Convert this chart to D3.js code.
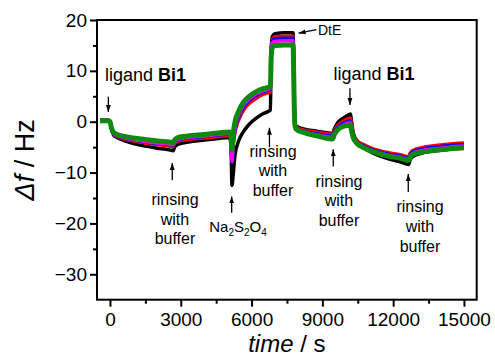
<!DOCTYPE html>
<html>
<head>
<meta charset="utf-8">
<script src="https://cdn.jsdelivr.net/npm/d3@7"></script>
<style>
  body { margin: 0; background: #fff; }
  text { font-family: "Liberation Sans", Arial, sans-serif; fill: #000; }
</style>
</head>
<body>
<svg id="chart" width="495" height="357"></svg>
<script>

// time axis of the recording (s)
var time = [-420, -100, 0, 60, 150, 300, 600, 1000, 1500, 2000, 2500, 2680, 2740, 2900, 3300, 4000, 4600, 5080,
    5130, 5170, 5220, 5300, 5450, 5650, 5900, 6200, 6500, 6800, 6830, 6880, 7000, 7400, 7760, 7790, 7830, 7900,
    8200, 8800, 9440, 9500, 9650, 9850, 10100, 10190, 10230, 10300, 10450, 10700, 11200, 11800, 12300, 12660,
    12720, 12850, 13200, 13800, 14400, 15000];

// frequency shift (Hz) per harmonic
var blackVals = [0.2, 0.2, 0.0, -1.4, -2.6, -3.1, -3.7, -4.3, -4.8, -5.2, -5.5, -5.7, -5.0, -4.4, -4.0, -3.6, -3.3, -3.1,
    -5.0, -12.5, -10.5, -6.5, -3.8, -2.0, -0.5, 0.7, 1.6, 2.3, 14.0, 16.8, 17.3, 17.5, 17.5, 8.5, 0.0, -0.9,
    -1.4, -1.9, -2.3, -1.5, -0.2, 0.6, 1.3, 1.5, 0.3, -2.0, -3.8, -4.9, -6.3, -7.3, -7.9, -8.4,
    -7.5, -6.8, -6.2, -5.7, -5.4, -5.2];
var redVals = [0.3, 0.3, 0.1, -1.3, -2.4, -2.9, -3.4, -3.8, -4.2, -4.5, -4.8, -4.9, -4.3, -3.8, -3.5, -3.2, -2.9, -2.7,
    -3.8, -7.0, -4.5, -2.0, 0.3, 2.2, 3.6, 4.6, 5.4, 5.9, 13.5, 16.2, 16.7, 16.8, 16.8, 8.3, -0.2, -1.1,
    -1.6, -2.1, -2.5, -1.8, -0.7, 0.0, 0.6, 0.7, -0.3, -2.2, -3.6, -4.4, -5.4, -6.1, -6.5, -6.9,
    -6.2, -5.6, -5.1, -4.7, -4.4, -4.2];
var blueVals = [0.3, 0.3, 0.1, -1.3, -2.3, -2.8, -3.2, -3.6, -4.0, -4.3, -4.5, -4.6, -4.1, -3.5, -3.2, -2.9, -2.6, -2.4,
    -3.8, -8.0, -4.5, -1.5, 0.9, 2.8, 4.2, 5.2, 5.9, 6.4, 13.2, 15.8, 16.3, 16.4, 16.4, 8.2, -0.3, -1.3,
    -1.9, -2.4, -2.8, -2.1, -1.1, -0.4, 0.1, 0.2, -0.8, -2.5, -3.9, -4.7, -5.7, -6.4, -6.8, -7.2,
    -6.5, -5.9, -5.4, -5.0, -4.7, -4.5];
var magentaVals = [0.3, 0.3, 0.1, -1.3, -2.3, -2.7, -3.1, -3.5, -3.9, -4.2, -4.4, -4.5, -4.0, -3.4, -3.1, -2.8, -2.5, -2.3,
    -3.6, -7.8, -4.0, -1.0, 1.3, 3.2, 4.5, 5.5, 6.1, 6.6, 12.8, 15.4, 15.8, 15.9, 15.9, 8.1, -0.4, -1.4,
    -2.0, -2.6, -3.1, -2.4, -1.4, -0.8, -0.3, -0.2, -1.2, -2.8, -4.1, -4.9, -5.9, -6.6, -7.0, -7.4,
    -6.7, -6.2, -5.7, -5.3, -5.0, -4.8];
var greenVals = [0.2, 0.2, 0.0, -1.2, -2.1, -2.5, -2.9, -3.2, -3.5, -3.8, -4.0, -4.1, -3.6, -3.1, -2.8, -2.5, -2.2, -2.0,
    -3.0, -5.5, -2.5, 0.0, 2.0, 3.8, 5.0, 5.9, 6.5, 6.9, 12.5, 14.6, 15.0, 15.1, 15.1, 8.0, -0.5, -1.5,
    -2.1, -2.8, -3.4, -2.6, -1.6, -1.0, -0.7, -0.6, -1.6, -3.0, -4.2, -5.0, -6.0, -6.8, -7.2, -7.6,
    -6.9, -6.4, -6.0, -5.6, -5.3, -5.1];

var seriesNames = ['black', 'red', 'blue', 'magenta', 'green'];
var seriesVals = [blackVals, redVals, blueVals, magentaVals, greenVals];
var seriesColors = ['#000000', '#ff0000', '#0000ff', '#ff00ff', '#0b8a0b'];

var xTicks = [0, 3000, 6000, 9000, 12000, 15000];
var xMinor = [1500, 4500, 7500, 10500, 13500];
var yTicks = [20, 10, 0, -10, -20, -30];
var yMinor = [15, 5, -5, -15, -25];

// annotations: arrow x, arrow from y -> to y (data units)
var arrows = [
    {t: -70, y0: 4.9, y1: 1.9},
    {t: 2640, y0: -11.5, y1: -8.1},
    {t: 5157, y0: -17.9, y1: -14.7},
    {t: 6758, y0: -5.0, y1: -1.2},
    {t: 10169, y0: 6.6, y1: 3.3},
    {t: 9462, y0: -8.8, y1: -5.4},
    {t: 12640, y0: -13.8, y1: -10.3}
];
var rinseLabels = [
    {t: 2754, y: -16.4},
    {t: 6907, y: -6.9},
    {t: 9703, y: -12.8},
    {t: 13136, y: -17.8}
];
var ligandLabels = [
    {t: 1504, y: 8.0},
    {t: 11186, y: 8.2}
];
var naParts = [['Na', 0], ['2', 1], ['S', 0], ['2', 1], ['O', 0], ['4', 1]];

window.addEventListener('load', makeChart);

function makeChart() {
    var svg = d3.select('#chart');
    var left = 97, top = 20, right = 476.7, bottom = 299.7;

    var x = d3.scaleLinear().domain([-550, 15540]).range([left, right]);
    var y = d3.scaleLinear().domain([-35, 20]).range([bottom, top]);

    // arrow head
    svg.append('defs').append('marker')
        .attr('id', 'head')
        .attr('markerUnits', 'userSpaceOnUse')
        .attr('viewBox', '0 0 10 10')
        .attr('refX', 10).attr('refY', 5)
        .attr('markerWidth', 7).attr('markerHeight', 7)
        .attr('orient', 'auto')
        .append('path').attr('d', 'M0,1.5 L10,5 L0,8.5 Z').attr('fill', '#000');

    // curves
    var line = d3.line()
        .x(function(d, i) { return x(time[i]); })
        .y(function(d) { return y(d); })
        .curve(d3.curveMonotoneX);

    var linesG = svg.append('g').attr('class', 'lines');
    seriesVals.forEach(function(vals, k) {
        linesG.append('path')
            .attr('id', seriesNames[k])
            .attr('d', line(vals))
            .attr('fill', 'none')
            .attr('stroke', seriesColors[k])
            .attr('stroke-width', k == 4 ? 5 : 3.5)
            .attr('stroke-linejoin', 'round');
    });

    // axes
    svg.append('g').attr('transform', 'translate(0,' + bottom + ')')
        .call(d3.axisBottom(x).tickValues(xTicks).tickSize(7).tickPadding(6).tickFormat(d3.format('d')));
    svg.append('g').attr('transform', 'translate(0,' + bottom + ')')
        .call(d3.axisBottom(x).tickValues(xMinor).tickSize(4).tickFormat(''));
    svg.append('g').attr('transform', 'translate(' + left + ',0)')
        .call(d3.axisLeft(y).tickValues(yTicks).tickSize(7).tickPadding(3));
    svg.append('g').attr('transform', 'translate(' + left + ',0)')
        .call(d3.axisLeft(y).tickValues(yMinor).tickSize(4).tickFormat(''));

    svg.selectAll('.domain').remove();
    svg.selectAll('.tick line').attr('stroke', '#000').attr('stroke-width', 2);
    svg.selectAll('.tick text').style('font-size', '19px')
        .style('font-family', '"Liberation Sans", Arial, sans-serif').attr('fill', '#000');

    svg.append('rect')
        .attr('x', left).attr('y', top)
        .attr('width', right - left).attr('height', bottom - top)
        .attr('fill', 'none').attr('stroke', '#000').attr('stroke-width', 2);

    // axis titles
    var xt = svg.append('text').attr('x', (left + right) / 2).attr('y', 352)
        .attr('text-anchor', 'middle').style('font-size', '24px');
    xt.append('tspan').style('font-style', 'italic').text('time');
    xt.append('tspan').text(' / s');

    var yt = svg.append('text')
        .attr('transform', 'translate(34,' + (top + bottom) / 2 + ') rotate(-90)')
        .attr('text-anchor', 'middle').style('font-size', '27px');
    yt.append('tspan').style('font-style', 'italic').text('\u0394f');
    yt.append('tspan').text(' / Hz');

    // annotation arrows
    var annG = svg.append('g').attr('class', 'annotations');
    annG.selectAll('line.arr').data(arrows).enter().append('line')
        .attr('class', 'arr')
        .attr('x1', d => x(d.t)).attr('x2', d => x(d.t))
        .attr('y1', d => y(d.y0)).attr('y2', d => y(d.y1))
        .attr('stroke', '#000').attr('stroke-width', 1.3)
        .attr('marker-end', 'url(#head)');

    // DtE arrow (points left to the plateau)
    annG.append('line')
        .attr('x1', x(8750)).attr('y1', y(18.1))
        .attr('x2', x(7990)).attr('y2', y(17.4))
        .attr('stroke', '#000').attr('stroke-width', 1.3)
        .attr('marker-end', 'url(#head)');
    annG.append('text').attr('x', x(8814)).attr('y', y(17.05))
        .style('font-size', '14px').text('DtE');

    rinseLabels.forEach(function(d) {
        var t = annG.append('text').attr('x', x(d.t)).attr('y', y(d.y))
            .attr('text-anchor', 'middle').style('font-size', '16px');
        ['rinsing', 'with', 'buffer'].forEach(function(s, i) {
            t.append('tspan').attr('x', x(d.t)).attr('dy', i == 0 ? 0 : '1.23em').text(s);
        });
    });

    ligandLabels.forEach(function(d) {
        var t = annG.append('text').attr('x', x(d.t)).attr('y', y(d.y))
            .attr('text-anchor', 'middle').style('font-size', '18px');
        t.append('tspan').text('ligand ');
        t.append('tspan').style('font-weight', 'bold').text('Bi1');
    });

    // Na2S2O4
    var na = annG.append('text').attr('x', x(5424)).attr('y', y(-21.6))
        .attr('text-anchor', 'middle').style('font-size', '15px');
    naParts.forEach(function(p, i) {
        var prev = i > 0 ? naParts[i - 1][1] : 0;
        na.append('tspan')
            .attr('dy', p[1] == prev ? 0 : (p[1] ? 4 : -4))
            .style('font-size', p[1] ? '10px' : '15px')
            .text(p[0]);
    });
}

</script>
</body>
</html>
